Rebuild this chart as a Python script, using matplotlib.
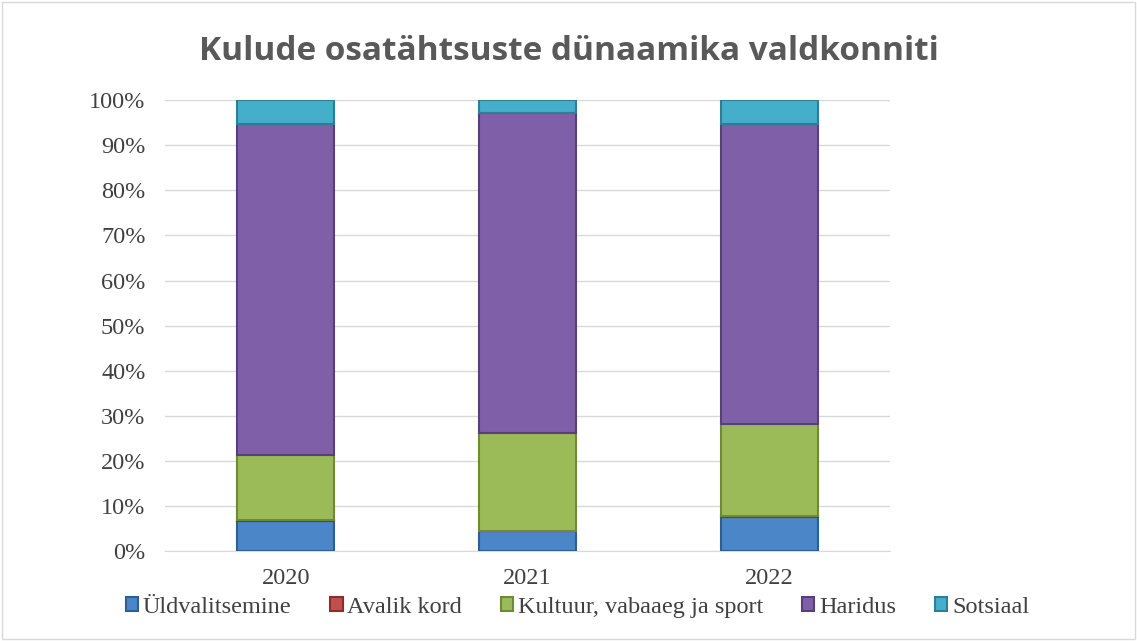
import matplotlib.pyplot as plt
import numpy as np

# data (percent of total)
years = ['2020', '2021', '2022']
categories = ['Üldvalitsemine', 'Avalik kord', 'Kultuur, vabaaeg ja sport', 'Haridus', 'Sotsiaal']
yldvalitsemine = [6.7, 4.4, 7.5]
avalik_kord = [0.3, 0.2, 0.3]
kultuur = [14.3, 21.5, 20.3]
haridus = [73.3, 71.1, 66.6]
sotsiaal = [5.4, 2.8, 5.3]

series = [yldvalitsemine, avalik_kord, kultuur, haridus, sotsiaal]
colors = ['#4a86c8', '#c0504d', '#9bbb59', '#7f5fa8', '#44aecb']
edges = ['#2d5f94', '#8c2d2a', '#6e8a35', '#57407a', '#2b7f96']

fig = plt.figure(figsize=(11.37, 6.41), dpi=100)
ax = fig.add_axes([0.145, 0.14, 0.638, 0.704])

x = np.arange(len(years))
bottom = np.zeros(len(years))
for vals, c, e, name in zip(series, colors, edges, categories):
    vals = np.array(vals)
    ax.bar(x, vals, 0.4, bottom=bottom, color=c, edgecolor=e, linewidth=1.5,
           label=name, zorder=3)
    bottom += vals

ax.set_xlim(-0.5, 2.5)
ax.set_ylim(0, 100)
ax.set_yticks(np.arange(0, 101, 10))
ax.set_yticklabels([f'{v}%' for v in range(0, 101, 10)])
ax.set_xticks(x)
ax.set_xticklabels(years)
ax.yaxis.grid(True, color='#d9d9d9', linewidth=1, zorder=0)
ax.set_axisbelow(True)
for s in ['top', 'right', 'left']:
    ax.spines[s].set_visible(False)
ax.spines['bottom'].set_color('#d9d9d9')
ax.tick_params(axis='y', length=0, labelsize=17.5, colors='#404040', pad=14)
ax.tick_params(axis='x', length=0, labelsize=17.5, colors='#404040', pad=12)
for lab in ax.get_xticklabels() + ax.get_yticklabels():
    lab.set_family('Liberation Serif')

fig.text(0.5, 0.92, 'Kulude osatähtsuste dünaamika valdkonniti', ha='center', va='center',
         fontsize=24, fontweight='bold', color='#595959', family='Open Sans')

leg = fig.legend(loc='center', bbox_to_anchor=(0.508, 0.053), ncol=5, frameon=False,
                 prop={'family': 'Liberation Serif', 'size': 17.5}, handlelength=0.5,
                 handleheight=0.5, handletextpad=0.2, columnspacing=1.6)
for t in leg.get_texts():
    t.set_color('#404040')

fig.patches.append(plt.Rectangle((0.002, 0.003), 0.996, 0.994, transform=fig.transFigure,
                                 fill=False, edgecolor='#d9d9d9', linewidth=1))

fig.savefig('out.png', dpi=100)
